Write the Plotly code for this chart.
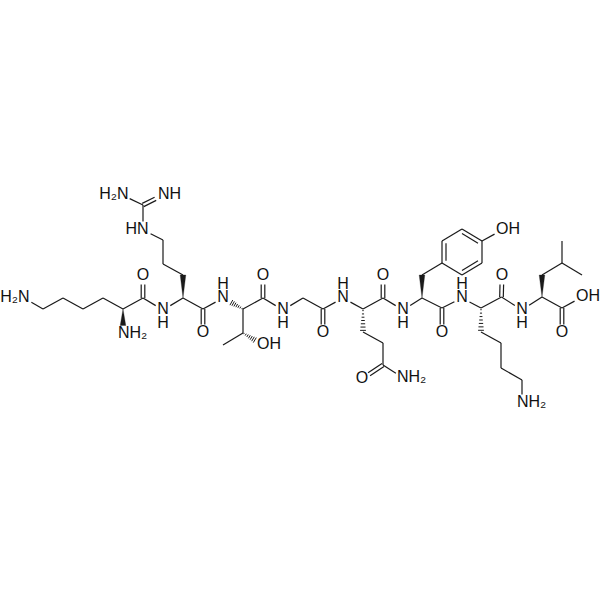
import math
import plotly.graph_objects as go

# Atom positions (pixel space of the 600x600 reference)
atom_names = ["N1","C1","C2","C3","C4","CA1","NA1","C1O","O1",
              "N2","CA2","CB2","CG2","CD2","NE2","CZ2","NH21","NH22","C2O","O2",
              "N3","CA3","CB3","CM3","OG3","C3O","O3",
              "N4","CA4","C4O","O4",
              "N5","CA5","CB5","CG5","CD5","OE5","NE5","C5O","O5",
              "N6","CA6","CB6","R1","R2","R3","R4","R5","R6","OH6","C6O","O6",
              "N7","CA7","CB7","CG7","CD7","CE7","NZ7","C7O","O7",
              "N8","CA8","CB8","CG8","CD81","CD82","C8O","O81","O82"]
atom_x = [24,43,63,83,103,123,123,143,143,
          163,183,183,163,163,143,143,163,122,203,203,
          223,243,243,223,263,263,263,
          283,303,323,323,
          343,363,363,383,383,362,403,383,383,
          403,422,422,442,442,462,482,482,462,502,442,442,
          462,481,481,501,501,522,522,501.5,502,
          522,542,542,562,562,582,562,562,582]
atom_y = [298,309,298,309,298,309,334,298,276,
          310,298,275,264,240,230,205,195,195,309,333,
          298,309,333,345,345,298,276,
          310,298,309,333,
          298,309,332,343,365,379,378,298,276,
          310,298,275,263,241,229,241,263,275,230,308,333,
          298,308,332,343,368,380,403,297,276,
          310,297,275,263,241,275,308,333,297]

single_bonds = [("N1","C1"),("C1","C2"),("C2","C3"),("C3","C4"),("C4","CA1"),("CA1","C1O"),
                ("C1O","N2"),("N2","CA2"),("CA2","C2O"),("CB2","CG2"),("CG2","CD2"),("CD2","NE2"),
                ("NE2","CZ2"),("CZ2","NH22"),("C2O","N3"),("CA3","C3O"),("CA3","CB3"),("CB3","CM3"),
                ("C3O","N4"),("N4","CA4"),("CA4","C4O"),("C4O","N5"),("N5","CA5"),("CA5","C5O"),
                ("CB5","CG5"),("CG5","CD5"),("CD5","NE5"),("C5O","N6"),("N6","CA6"),("CA6","C6O"),
                ("CB6","R1"),("R1","R2"),("R2","R3"),("R3","R4"),("R4","R5"),("R5","R6"),("R6","R1"),
                ("R4","OH6"),("C6O","N7"),("N7","CA7"),("CA7","C7O"),("CB7","CG7"),("CG7","CD7"),
                ("CD7","CE7"),("CE7","NZ7"),("C7O","N8"),("N8","CA8"),("CA8","C8O"),("CB8","CG8"),
                ("CG8","CD81"),("CG8","CD82"),("C8O","O82")]
double_bonds = [("C1O","O1"),("CZ2","NH21"),("C2O","O2"),("C3O","O3"),("C4O","O4"),("CD5","OE5"),
                ("C5O","O5"),("C6O","O6"),("C7O","O7"),("C8O","O81")]
ring_inner_bonds = [("R1","R2"),("R3","R4"),("R5","R6")]
wedge_bonds = [("CA1","NA1"),("CA2","CB2"),("CA6","CB6"),("CA8","CB8")]
hash_bonds = [("CA3","N3"),("CB3","OG3"),("CA5","CB5"),("CA7","CB7")]

# Text labels: centred on their atom
center_x = [143,163,163,203,223,223,263,283,283,323,343,343,383,362,403,403,442,462,462,502,522,522,562]
center_y = [276,310,324,333,298,285,276,310,324,333,298,285,276,379,310,324,333,298,285,276,310,324,333]
center_text = ["O","N","H","O","N","H","O","N","H","O","N","H","O","O","N","H","O","N","H","O","N","H","O"]
# Text labels that end at the atom (H2N, HN)
end_x = [29.5,128.5,148.5]
end_y = [298,195,230]
end_text = ["H₂N","H₂N","HN"]
# Text labels that start at the atom (NH2, NH, OH)
start_x = [118,158,257,397,496,517,576]
start_y = [334,195,345,378,230,403,297]
start_text = ["NH₂","NH","OH","NH₂","OH","NH₂","OH"]

heteroatoms = {"N1","NA1","O1","N2","NE2","NH21","NH22","O2","N3","OG3","O3","N4","O4","N5","OE5","NE5","O5",
               "N6","OH6","O6","N7","NZ7","O7","N8","O81","O82"}
INK = "#1a1a1a"
TRIM = 8.5
pos = dict(zip(atom_names, zip(atom_x, atom_y)))

def ends(a, b):
    (x0, y0), (x1, y1) = pos[a], pos[b]
    L = math.hypot(x1 - x0, y1 - y0)
    ux, uy = (x1 - x0) / L, (y1 - y0) / L
    t0 = TRIM if a in heteroatoms else 0
    t1 = TRIM if b in heteroatoms else 0
    return x0 + ux * t0, y0 + uy * t0, x1 - ux * t1, y1 - uy * t1, ux, uy

lx, ly = [], []
def seg(x0, y0, x1, y1):
    lx.extend([x0, x1, None]); ly.extend([y0, y1, None])

for a, b in single_bonds:
    x0, y0, x1, y1, _, _ = ends(a, b)
    seg(x0, y0, x1, y1)
for a, b in double_bonds:
    x0, y0, x1, y1, ux, uy = ends(a, b)
    for s in (-1.8, 1.8):
        seg(x0 - uy * s, y0 + ux * s, x1 - uy * s, y1 + ux * s)
cx = sum(pos[r][0] for r in ["R1","R2","R3","R4","R5","R6"]) / 6
cy = sum(pos[r][1] for r in ["R1","R2","R3","R4","R5","R6"]) / 6
for a, b in ring_inner_bonds:
    (x0, y0), (x1, y1) = pos[a], pos[b]
    f = 0.80
    seg(cx + (x0 - cx) * f, cy + (y0 - cy) * f, cx + (x1 - cx) * f, cy + (y1 - cy) * f)

hx, hy = [], []
for a, b in hash_bonds:
    x0, y0, x1, y1, ux, uy = ends(a, b)
    L = math.hypot(x1 - x0, y1 - y0)
    n = 7
    for i in range(n):
        t = (i + 0.5) / n
        w = 0.5 + 2.6 * t
        px, py = x0 + ux * L * t, y0 + uy * L * t
        hx.extend([px - uy * w, px + uy * w, None]); hy.extend([py + ux * w, py - ux * w, None])

wx, wy = [], []
for a, b in wedge_bonds:
    x0, y0, x1, y1, ux, uy = ends(a, b)
    w = 2.8
    wx.extend([x0, x1 - uy * w, x1 + uy * w, x0, None])
    wy.extend([y0, y1 + ux * w, y1 - ux * w, y0, None])

FONT = dict(family="Liberation Sans", size=16, color="#111111")
fig = go.Figure()
fig.add_trace(go.Scatter(x=lx, y=ly, mode="lines", line=dict(color=INK, width=1.2), hoverinfo="skip"))
fig.add_trace(go.Scatter(x=hx, y=hy, mode="lines", line=dict(color=INK, width=1.0), hoverinfo="skip"))
fig.add_trace(go.Scatter(x=wx, y=wy, mode="lines", fill="toself", fillcolor=INK, line=dict(color=INK, width=0.3), hoverinfo="skip"))
for tx, ty, tt, tp in [(center_x, center_y, center_text, "middle center"),
                       (end_x, end_y, end_text, "middle left"),
                       (start_x, start_y, start_text, "middle right")]:
    fig.add_trace(go.Scatter(x=tx, y=ty, mode="text", text=tt, textposition=tp, textfont=FONT, hoverinfo="skip"))
fig.update_layout(width=600, height=600, margin=dict(l=0, r=0, t=0, b=0), showlegend=False,
                  paper_bgcolor="white", plot_bgcolor="white",
                  xaxis=dict(range=[0, 600], visible=False), yaxis=dict(range=[600, 0], visible=False))
fig.write_html("out.html", config={"displayModeBar": False}, post_script="document.body.style.margin='0';")
